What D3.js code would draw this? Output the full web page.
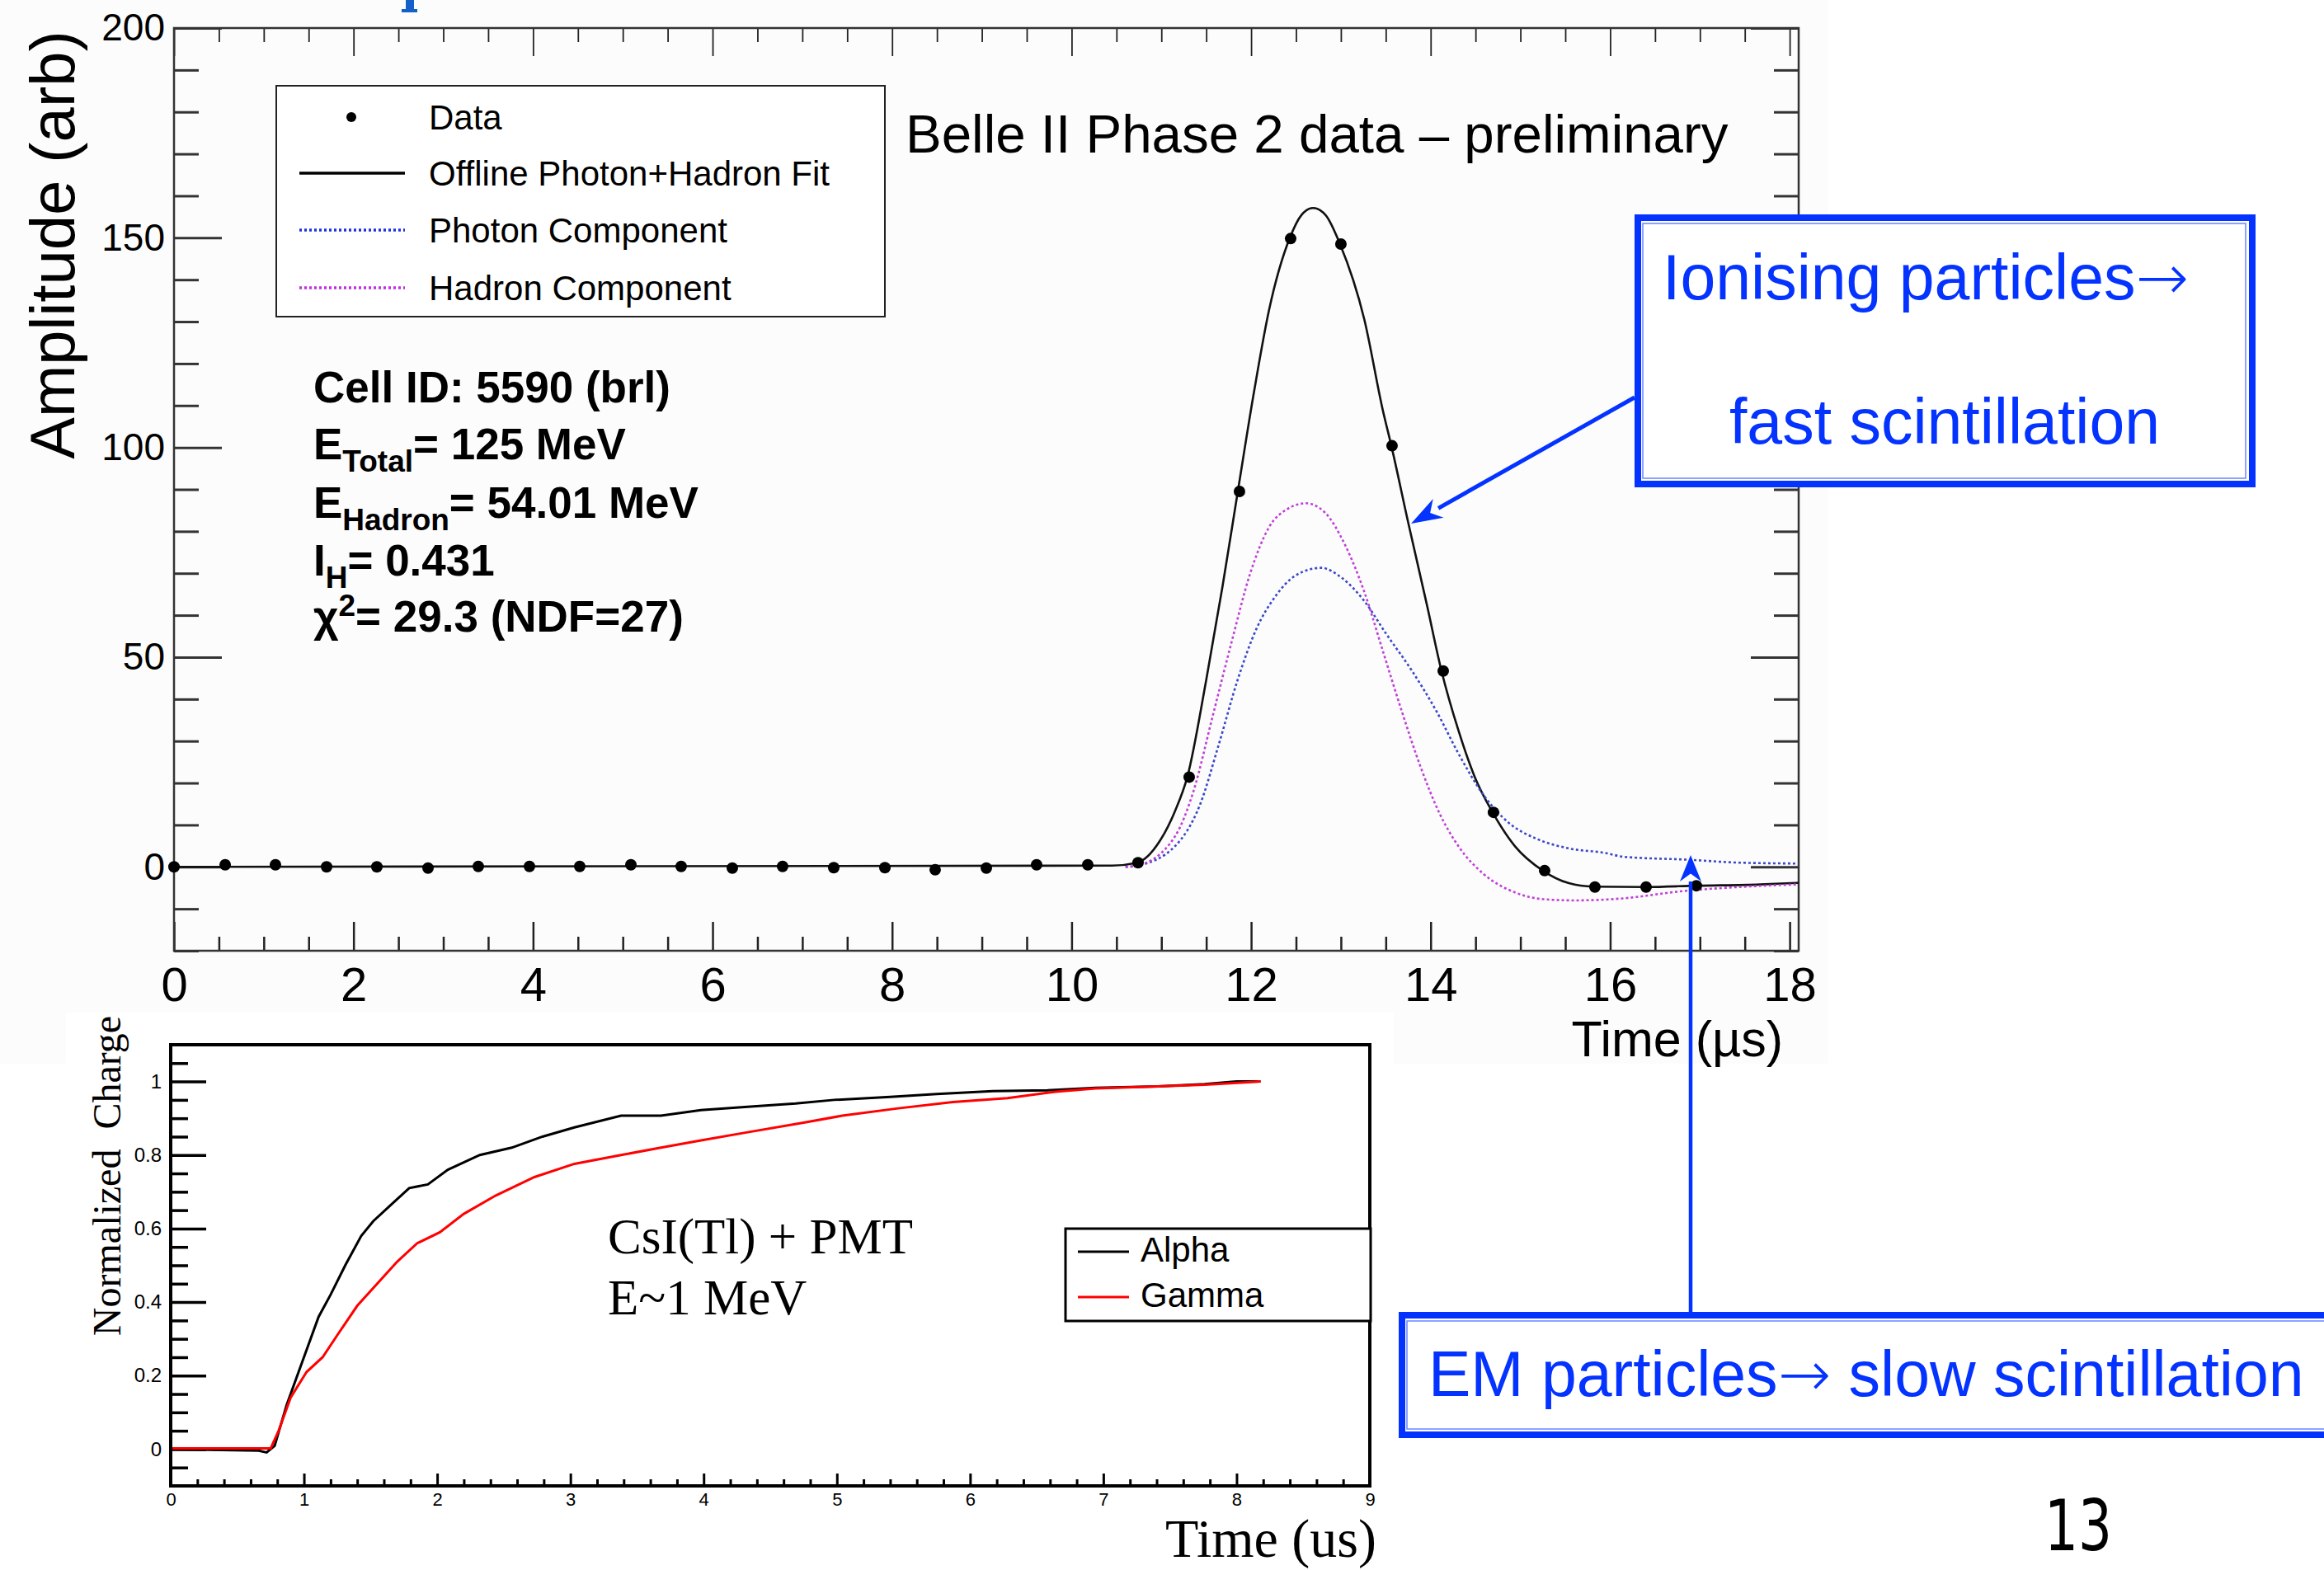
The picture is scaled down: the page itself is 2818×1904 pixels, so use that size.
<!DOCTYPE html>
<html>
<head>
<meta charset="utf-8">
<script src="https://cdn.jsdelivr.net/npm/d3@7"></script>
<style>
  body { margin: 0; background: #fff; }
  svg { display: block; }
</style>
</head>
<body>
<script>
// ---- top panel: Belle II ECL waveform ----
const sampleTime = [0.00, 0.57, 1.13, 1.70, 2.26, 2.83, 3.39, 3.96, 4.52, 5.09, 5.65,
  6.22, 6.78, 7.35, 7.92, 8.48, 9.05, 9.61, 10.18, 10.74, 11.31, 11.87, 12.44, 13.00,
  13.57, 14.14, 14.70, 15.27, 15.83, 16.40, 16.96];
const sampleAmp = [0.0, 0.5, 0.5, 0.0, 0.0, -0.3, 0.1, 0.1, 0.1, 0.5, 0.1,
  -0.3, 0.1, -0.2, -0.2, -0.7, -0.3, 0.5, 0.5, 1.0, 21.4, 89.5, 149.8, 148.5,
  100.4, 46.7, 13.0, -0.9, -4.8, -4.8, -4.5];

const fitTime = [0, 10.45, 10.73, 10.98, 11.15, 11.29, 11.50, 11.68, 11.85, 12.03, 12.20,
  12.43, 12.56, 12.69, 12.83, 12.99, 13.26, 13.47, 13.56, 13.75, 13.96, 14.12, 14.31,
  14.49, 14.69, 14.94, 15.25, 15.54, 15.81, 16.40, 16.96, 17.67, 18.1];
const fitAmp = [0, 0.3, 1.0, 6.1, 13.2, 21.5, 44.6, 66.7, 89.3, 113, 132.8,
  149.9, 155.4, 157.1, 155.4, 148.5, 130.6, 108.6, 100.6, 82.1, 62.3, 46.8, 32.5,
  21.5, 13.0, 4.9, -0.9, -3.9, -4.7, -4.8, -4.5, -4.2, -3.8];

const photonTime = [10.60, 10.73, 11.15, 11.43, 11.64, 11.85, 12.06, 12.27, 12.49, 12.78,
  13.01, 13.26, 13.50, 13.79, 14.07, 14.31, 14.59, 14.87, 15.19, 15.54, 15.95, 16.15,
  16.87, 17.44, 18.07];
const photonAmp = [0, 0.3, 4.9, 14.8, 29.2, 44.6, 56.8, 64.5, 69.4, 71.3,
  68.9, 63.4, 55.7, 46.8, 36.9, 27.0, 17.1, 10.5, 6.6, 4.4, 3.3, 2.4,
  1.7, 1.0, 0.8];

const hadronTime = [10.60, 10.73, 11.15, 11.36, 11.57, 11.78, 11.99, 12.20, 12.41, 12.61,
  12.83, 13.05, 13.26, 13.47, 13.68, 13.89, 14.10, 14.31, 14.59, 14.94, 15.25, 15.60,
  15.95, 16.15, 16.80, 17.44, 18.07];
const hadronAmp = [0, 0.3, 7.2, 18.2, 35.8, 53.4, 70.0, 81.0, 85.4, 86.7,
  84.3, 76.6, 65.6, 51.3, 37.0, 23.7, 12.7, 4.9, -1.7, -6.1, -7.7, -8.0,
  -7.8, -7.5, -5.8, -4.8, -4.2];

const topXTicks = [0, 2, 4, 6, 8, 10, 12, 14, 16, 18];
const topYTicks = [0, 50, 100, 150, 200];
const topLegend = ['Data', 'Offline Photon+Hadron Fit', 'Photon Component', 'Hadron Component'];

// ---- bottom panel: CsI(Tl) integrated charge ----
const alphaTime = [0, 0.66, 0.72, 0.78, 0.87, 0.96, 1.02, 1.11, 1.20, 1.31, 1.43, 1.52,
  1.67, 1.79, 1.93, 2.08, 2.32, 2.56, 2.79, 3.03, 3.38, 3.68, 3.98, 4.33, 4.69, 4.98,
  5.40, 5.75, 6.17, 6.58, 6.94, 7.41, 7.76, 8.00, 8.18];
const alphaQ = [0, -0.004, -0.009, 0.009, 0.12, 0.21, 0.27, 0.36, 0.42, 0.50, 0.58, 0.62,
  0.67, 0.71, 0.72, 0.76, 0.80, 0.82, 0.85, 0.875, 0.907, 0.907, 0.922, 0.931, 0.94, 0.95,
  0.958, 0.966, 0.974, 0.976, 0.983, 0.987, 0.993, 1.0, 1.0];

const gammaTime = [0, 0.75, 0.81, 0.90, 1.02, 1.14, 1.25, 1.40, 1.55, 1.70, 1.85, 2.02,
  2.20, 2.44, 2.73, 3.03, 3.38, 3.68, 3.98, 4.33, 4.75, 5.04, 5.46, 5.87, 6.28, 6.64,
  6.94, 7.41, 7.76, 8.18];
const gammaQ = [0.002, 0.002, 0.05, 0.14, 0.21, 0.25, 0.31, 0.39, 0.45, 0.51, 0.56, 0.59,
  0.64, 0.69, 0.74, 0.776, 0.80, 0.82, 0.84, 0.862, 0.888, 0.907, 0.927, 0.944, 0.955, 0.972,
  0.981, 0.987, 0.991, 1.0];

const botXTicks = [0, 1, 2, 3, 4, 5, 6, 7, 8, 9];
const botYTicks = [0, 0.2, 0.4, 0.6, 0.8, 1];

const SANS = 'Liberation Sans, Arial, sans-serif';
const SERIF = 'Liberation Serif, Times New Roman, serif';
const BLUE = '#0433ff';

const svg = d3.select('body').append('svg')
  .attr('width', 2818).attr('height', 1904);

svg.append('rect').attr('width', 2818).attr('height', 1904).attr('fill', '#fff');
// the two pasted images
svg.append('rect').attr('x', 0).attr('y', 0).attr('width', 2217).attr('height', 1290).attr('fill', '#fcfcfc');
svg.append('rect').attr('x', 80).attr('y', 1228).attr('width', 1610).attr('height', 676).attr('fill', '#fff');

// small blue glyph fragment cut at the top edge
svg.append('path').attr('d', 'M492,0 L502,0 L502,11 L506,11 L506,15 L487,15 L487,11 L492,11 Z').attr('fill', '#1560c8');

// helper that draws an axis and styles it
function axis(g, gen, tr, opts) {
  const a = g.append('g').attr('transform', tr).call(gen);
  a.select('.domain').remove();
  a.selectAll('line').attr('stroke', opts.color || '#222').attr('stroke-width', opts.width || 2.5);
  a.attr('font-family', opts.font || SANS).attr('font-size', opts.size || 10);
  a.selectAll('text').attr('fill', '#000');
  return a;
}

// ================= TOP PANEL =================
const x1 = d3.scaleLinear().domain([0, 18.1]).range([211, 2181]);
const y1 = d3.scaleLinear().domain([-20, 200]).range([1153, 34]);
const gt = svg.append('g');

const xMinor1 = d3.range(0, 18.1, 0.5).filter(v => v % 2 !== 0);
const yMinor1 = d3.range(-20, 201, 10).filter(v => v % 50 !== 0);

axis(gt, d3.axisBottom(x1).tickValues(topXTicks).tickSizeInner(-35).tickSizeOuter(0).tickPadding(20).tickFormat(d3.format('d')),
  `translate(0,${y1(-20)})`, { size: 58 });
axis(gt, d3.axisBottom(x1).tickValues(xMinor1).tickSizeInner(-17).tickSizeOuter(0).tickFormat(''),
  `translate(0,${y1(-20)})`, {});
axis(gt, d3.axisTop(x1).tickValues(topXTicks).tickSizeInner(-34).tickSizeOuter(0).tickFormat(''),
  `translate(0,${y1(200)})`, { width: 1.8 });
axis(gt, d3.axisTop(x1).tickValues(xMinor1).tickSizeInner(-17).tickSizeOuter(0).tickFormat(''),
  `translate(0,${y1(200)})`, { width: 1.8 });
axis(gt, d3.axisLeft(y1).tickValues(topYTicks).tickSizeInner(-58).tickSizeOuter(0).tickPadding(11).tickFormat(d3.format('d')),
  `translate(${x1(0)},0)`, { size: 46, color: '#333', width: 3 });
axis(gt, d3.axisLeft(y1).tickValues(yMinor1).tickSizeInner(-30).tickSizeOuter(0).tickFormat(''),
  `translate(${x1(0)},0)`, { color: '#333', width: 3 });
axis(gt, d3.axisRight(y1).tickValues(topYTicks).tickSizeInner(-58).tickSizeOuter(0).tickFormat(''),
  `translate(${x1(18.1)},0)`, { color: '#333', width: 3 });
axis(gt, d3.axisRight(y1).tickValues(yMinor1).tickSizeInner(-30).tickSizeOuter(0).tickFormat(''),
  `translate(${x1(18.1)},0)`, { color: '#333', width: 3 });

gt.append('rect')
  .attr('x', x1(0)).attr('y', y1(200))
  .attr('width', x1(18.1) - x1(0)).attr('height', y1(-20) - y1(200))
  .attr('fill', 'none').attr('stroke', '#333').attr('stroke-width', 2.5);

const line1 = d3.line().x(d => x1(d[0])).y(d => y1(d[1])).curve(d3.curveMonotoneX);

gt.append('path').datum(d3.zip(fitTime, fitAmp))
  .attr('d', line1).attr('fill', 'none').attr('stroke', '#111').attr('stroke-width', 2.6);
gt.append('path').datum(d3.zip(photonTime, photonAmp))
  .attr('d', line1).attr('fill', 'none').attr('stroke', '#3a48c8').attr('stroke-width', 2.6)
  .attr('stroke-dasharray', '3,3');
gt.append('path').datum(d3.zip(hadronTime, hadronAmp))
  .attr('d', line1).attr('fill', 'none').attr('stroke', '#c040d8').attr('stroke-width', 2.6)
  .attr('stroke-dasharray', '3,3');

gt.selectAll('circle.pt').data(d3.zip(sampleTime, sampleAmp)).join('circle')
  .attr('class', 'pt')
  .attr('cx', d => x1(d[0])).attr('cy', d => y1(d[1]))
  .attr('r', 7).attr('fill', '#000');

// axis titles
gt.append('text').attr('transform', `translate(90,297) rotate(-90)`)
  .attr('text-anchor', 'middle').attr('font-family', SANS).attr('font-size', 76)
  .text('Amplitude (arb)');
gt.append('text').attr('x', 2162).attr('y', 1281).attr('text-anchor', 'end')
  .attr('font-family', SANS).attr('font-size', 61).text('Time (µs)');

gt.append('text').attr('x', 1098).attr('y', 185)
  .attr('font-family', SANS).attr('font-size', 65.5)
  .text('Belle II Phase 2 data – preliminary');

// legend
const lg = gt.append('g');
lg.append('rect').attr('x', 335).attr('y', 104).attr('width', 738).attr('height', 280)
  .attr('fill', '#fff').attr('stroke', '#222').attr('stroke-width', 2);
const legY = [142, 210, 279, 349];
lg.append('circle').attr('cx', 426).attr('cy', legY[0]).attr('r', 6).attr('fill', '#000');
lg.append('line').attr('x1', 363).attr('x2', 491).attr('y1', legY[1]).attr('y2', legY[1])
  .attr('stroke', '#000').attr('stroke-width', 3.5);
lg.append('line').attr('x1', 363).attr('x2', 491).attr('y1', legY[2]).attr('y2', legY[2])
  .attr('stroke', '#2030e0').attr('stroke-width', 3.5).attr('stroke-dasharray', '3,3');
lg.append('line').attr('x1', 363).attr('x2', 491).attr('y1', legY[3]).attr('y2', legY[3])
  .attr('stroke', '#c030e0').attr('stroke-width', 3.5).attr('stroke-dasharray', '3,3');
lg.selectAll('text').data(topLegend).join('text')
  .attr('x', 520).attr('y', (d, i) => legY[i] + 15)
  .attr('font-family', SANS).attr('font-size', 42).text(d => d);

// fit info block
const info = gt.append('g').attr('font-family', SANS).attr('font-weight', 'bold').attr('font-size', 53);
info.append('text').attr('x', 380).attr('y', 488).text('Cell ID: 5590 (brl)');
function subLine(y, main, sub, rest, up) {
  const t = info.append('text').attr('x', 380).attr('y', y);
  t.append('tspan').text(main);
  t.append('tspan').attr('font-size', 37).attr('dy', up ? -19 : 15).text(sub);
  t.append('tspan').attr('dy', up ? 19 : -15).text(rest);
}
subLine(557, 'E', 'Total', '= 125 MeV');
subLine(628, 'E', 'Hadron', '= 54.01 MeV');
subLine(698, 'I', 'H', '= 0.431');
subLine(766, 'χ', '2', '= 29.3 (NDF=27)', true);

// ================= BOTTOM PANEL =================
const x2 = d3.scaleLinear().domain([0, 9]).range([207, 1661]);
const y2 = d3.scaleLinear().domain([-0.1, 1.1]).range([1802, 1267]);
const gb = svg.append('g');

const xMinor2 = d3.range(0, 9.01, 0.2).filter(v => Math.abs(v - Math.round(v)) > 0.01);
const yMinor2 = d3.range(-0.05, 1.1, 0.05).filter(v => Math.abs(v * 5 - Math.round(v * 5)) > 0.01);

axis(gb, d3.axisBottom(x2).tickValues(botXTicks).tickSizeInner(-15).tickSizeOuter(0).tickPadding(8).tickFormat(d3.format('d')),
  `translate(0,${y2(-0.1)})`, { size: 22, color: '#000', width: 3 });
axis(gb, d3.axisBottom(x2).tickValues(xMinor2).tickSizeInner(-8).tickSizeOuter(0).tickFormat(''),
  `translate(0,${y2(-0.1)})`, { color: '#000', width: 3 });
axis(gb, d3.axisLeft(y2).tickValues(botYTicks).tickSizeInner(-43).tickSizeOuter(0).tickPadding(11).tickFormat(d => d === 0 || d === 1 ? d3.format('d')(d) : d3.format('.1f')(d)),
  `translate(${x2(0)},0)`, { size: 24, color: '#000', width: 3.5 });
axis(gb, d3.axisLeft(y2).tickValues(yMinor2).tickSizeInner(-21).tickSizeOuter(0).tickFormat(''),
  `translate(${x2(0)},0)`, { color: '#000', width: 3.5 });

const line2 = d3.line().x(d => x2(d[0])).y(d => y2(d[1]));
gb.append('path').datum(d3.zip(alphaTime, alphaQ))
  .attr('d', line2).attr('fill', 'none').attr('stroke', '#000').attr('stroke-width', 3);
gb.append('path').datum(d3.zip(gammaTime, gammaQ))
  .attr('d', line2).attr('fill', 'none').attr('stroke', '#ff0000').attr('stroke-width', 3);

gb.append('rect')
  .attr('x', x2(0)).attr('y', y2(1.1))
  .attr('width', x2(9) - x2(0)).attr('height', y2(-0.1) - y2(1.1))
  .attr('fill', 'none').attr('stroke', '#000').attr('stroke-width', 4);

gb.append('text').attr('transform', 'translate(146,1426) rotate(-90)')
  .attr('text-anchor', 'middle').attr('font-family', SERIF).attr('font-size', 48)
  .style('white-space', 'pre').text('Normalized  Charge');
gb.append('text').attr('x', 1669).attr('y', 1888).attr('text-anchor', 'end')
  .attr('font-family', SERIF).attr('font-size', 66).text('Time (us)');
gb.append('text').attr('x', 737).attr('y', 1520)
  .attr('font-family', SERIF).attr('font-size', 61).text('CsI(Tl) + PMT');
gb.append('text').attr('x', 737).attr('y', 1594)
  .attr('font-family', SERIF).attr('font-size', 61).text('E~1 MeV');

// legend
gb.append('rect').attr('x', 1292).attr('y', 1490).attr('width', 370).attr('height', 112)
  .attr('fill', '#fff').attr('stroke', '#000').attr('stroke-width', 3);
[['Alpha', '#000', 1518], ['Gamma', '#ff0000', 1573]].forEach(([name, col, yy]) => {
  gb.append('line').attr('x1', 1307).attr('x2', 1369).attr('y1', yy).attr('y2', yy)
    .attr('stroke', col).attr('stroke-width', 3);
  gb.append('text').attr('x', 1383).attr('y', yy + 12)
    .attr('font-family', SANS).attr('font-size', 42).text(name);
});

// ================= ANNOTATIONS =================
const ga = svg.append('g');
function sketchBox(x, y, w, h) {
  ga.append('rect').attr('x', x).attr('y', y).attr('width', w).attr('height', h)
    .attr('fill', '#fff').attr('stroke', BLUE).attr('stroke-width', 8);
  ga.append('rect').attr('x', x + 6).attr('y', y + 7).attr('width', w - 14).attr('height', h - 14)
    .attr('fill', 'none').attr('stroke', BLUE).attr('stroke-width', 1.5).attr('opacity', 0.6);
}
function arrow(xa, ya, xb, yb, w, headLen, headHalf) {
  const ang = Math.atan2(yb - ya, xb - xa);
  const bx = xb - headLen * Math.cos(ang), by = yb - headLen * Math.sin(ang);
  ga.append('line').attr('x1', xa).attr('y1', ya).attr('x2', bx).attr('y2', by)
    .attr('stroke', BLUE).attr('stroke-width', w);
  const nx = -Math.sin(ang) * headHalf, ny = Math.cos(ang) * headHalf;
  const ix = xb - headLen * 0.7 * Math.cos(ang), iy = yb - headLen * 0.7 * Math.sin(ang);
  ga.append('path')
    .attr('d', `M${xb},${yb} L${bx + nx},${by + ny} L${ix},${iy} L${bx - nx},${by - ny} Z`)
    .attr('fill', BLUE);
}
function blueText(x, y, parts, anchor) {
  const t = ga.append('text').attr('x', x).attr('y', y).attr('font-family', SANS)
    .attr('font-size', 77).attr('fill', BLUE).attr('text-anchor', anchor || 'start')
    .style('white-space', 'pre');
  parts.forEach(p => {
    const s = t.append('tspan').text(p);
    if (p === '→') s.attr('font-family', 'DejaVu Sans, sans-serif').attr('font-weight', 200);
  });
}

sketchBox(1986, 264, 745, 323);
blueText(2016, 363, ['Ionising particles', '→']);
blueText(2358, 538, ['fast scintillation'], 'middle');
arrow(1982, 482, 1711, 635, 5, 38, 13);

sketchBox(1700, 1595, 1140, 145);
blueText(1732, 1693, ['EM particles', '→', ' slow scintillation']);
arrow(2050, 1592, 2050, 1037, 4.5, 32, 13);

// slide number
svg.append('text').attr('transform', 'translate(2520,1880) scale(0.75,1)')
  .attr('text-anchor', 'middle').attr('font-family', 'DejaVu Sans, sans-serif')
  .attr('font-size', 86).text('13');
</script>
</body>
</html>
